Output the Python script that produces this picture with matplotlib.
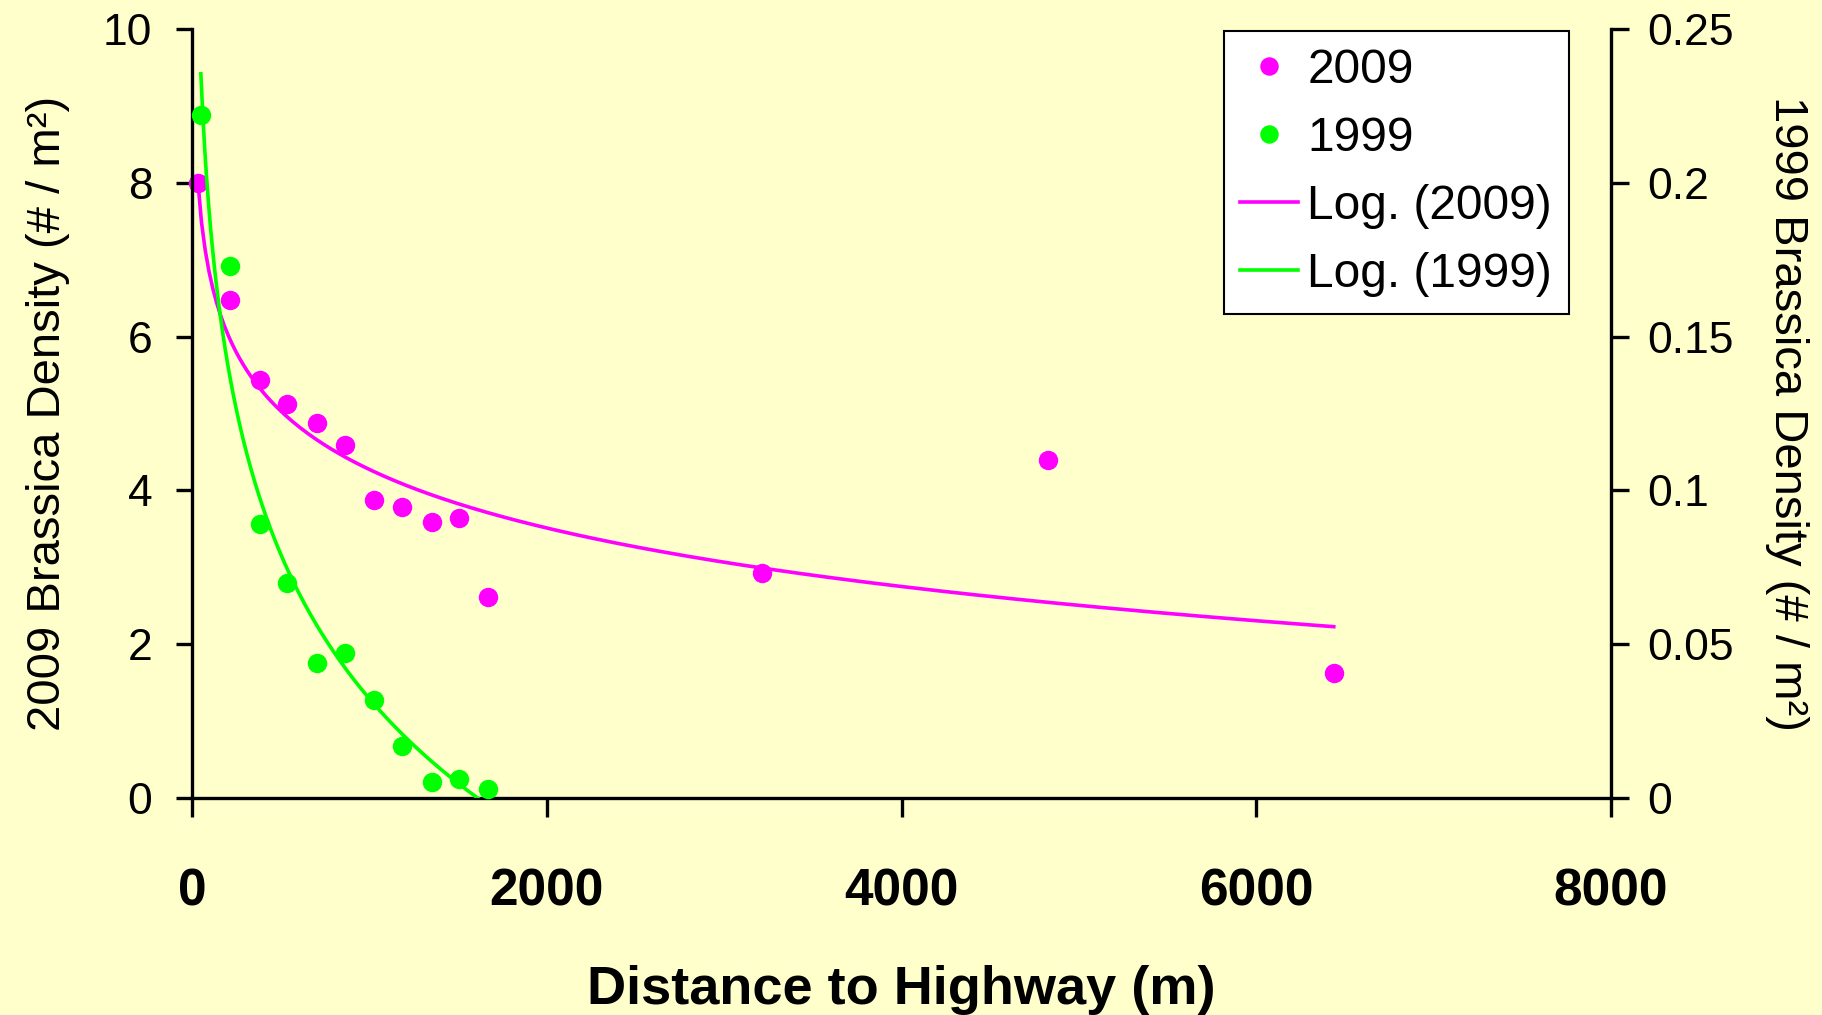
"""Brassica density vs distance to highway, 2009 and 1999, with log trend lines."""

import numpy as np
import matplotlib

matplotlib.use("Agg")
import matplotlib.pyplot as plt
from matplotlib.ticker import FuncFormatter, MultipleLocator

plt.rcParams["font.family"] = ["Liberation Sans", "DejaVu Sans"]

# data
dist_2009 = [32, 214, 383, 537, 703, 862, 1026, 1182, 1351, 1507, 1670, 3215, 4826, 6437]
dens_2009 = [8.0, 6.48, 5.44, 5.12, 4.87, 4.59, 3.88, 3.78, 3.59, 3.64, 2.62, 2.92, 4.40, 1.63]

dist_1999 = [50, 214, 383, 534, 703, 862, 1026, 1182, 1351, 1507, 1670]
dens_1999 = [0.222, 0.173, 0.089, 0.070, 0.044, 0.047, 0.032, 0.017, 0.0053, 0.0061, 0.003]

x_ticks = [0, 2000, 4000, 6000, 8000]

BG = "#FFFFCC"
MAGENTA = "#FF00FF"
GREEN = "#00FF00"


def log_trend(x, y, n=300):
    """Excel-style logarithmic trendline y = a*ln(x) + b over the data range."""
    x = np.asarray(x, dtype=float)
    a, b = np.polyfit(np.log(x), np.asarray(y, dtype=float), 1)
    xs = np.linspace(x.min(), x.max(), n)
    return xs, a * np.log(xs) + b


fig = plt.figure(figsize=(18.22, 10.15), dpi=100, facecolor=BG)
ax = fig.add_axes([192 / 1822, 1 - 798 / 1015, (1611 - 192) / 1822, (798 - 29) / 1015])
ax.set_facecolor(BG)
ax2 = ax.twinx()

# 2009 on the left axis
h1, = ax.plot(dist_2009, dens_2009, "o", color=MAGENTA, markersize=14,
              markeredgewidth=0, clip_on=False, label="2009")
tx, ty = log_trend(dist_2009, dens_2009)
h3, = ax.plot(tx, ty, color=MAGENTA, lw=2.6, label="Log. (2009)")

# 1999 on the right axis
h2, = ax2.plot(dist_1999, dens_1999, "o", color=GREEN, markersize=14,
               markeredgewidth=0, clip_on=False, label="1999")
tx, ty = log_trend(dist_1999, dens_1999)
h4, = ax2.plot(tx, ty, color=GREEN, lw=2.6, label="Log. (1999)")

ax.set_xlim(0, 8000)
ax.set_ylim(0, 10)
ax2.set_ylim(0, 0.25)
ax.set_xticks(x_ticks)
ax.yaxis.set_major_locator(MultipleLocator(2))
ax2.yaxis.set_major_locator(MultipleLocator(0.05))
ax2.yaxis.set_major_formatter(FuncFormatter(lambda v, p: f"{round(v, 2):g}"))

for a in (ax, ax2):
    a.spines["top"].set_visible(False)
    for s in a.spines.values():
        s.set_linewidth(2.4)
ax.spines["right"].set_visible(False)
ax2.spines["left"].set_visible(False)
ax2.spines["bottom"].set_visible(False)

ax.tick_params(axis="y", direction="out", length=11.5, width=2.4, labelsize=32, pad=17)
ax.tick_params(axis="x", direction="out", length=14, width=2.4, labelsize=37, pad=36)
for lab in ax.get_xticklabels():
    lab.set_fontweight("bold")
ax2.tick_params(axis="y", direction="out", length=13, width=2.4, labelsize=32, pad=13)

ax.set_xlabel("Distance to Highway (m)", fontsize=39, fontweight="bold", labelpad=35)
ax.set_ylabel("2009 Brassica Density (# / m²)", fontsize=34, labelpad=24)
ax2.set_ylabel("1999 Brassica Density (# / m²)", fontsize=34, rotation=270,
               labelpad=54)

leg = ax2.legend([h1, h2, h3, h4], ["2009", "1999", "Log. (2009)", "Log. (1999)"],
                 loc="upper right", bbox_to_anchor=(1569 / 1822, 1 - 31 / 1015),
                 bbox_transform=fig.transFigure, borderaxespad=0, fontsize=34.5,
                 frameon=True, fancybox=False, framealpha=1, edgecolor="black",
                 handlelength=1.2, handletextpad=0.2, labelspacing=0.48,
                 borderpad=0.35, markerscale=0.95)
leg.get_frame().set_linewidth(1.5)

fig.savefig("out.png", dpi=100, facecolor=BG)
